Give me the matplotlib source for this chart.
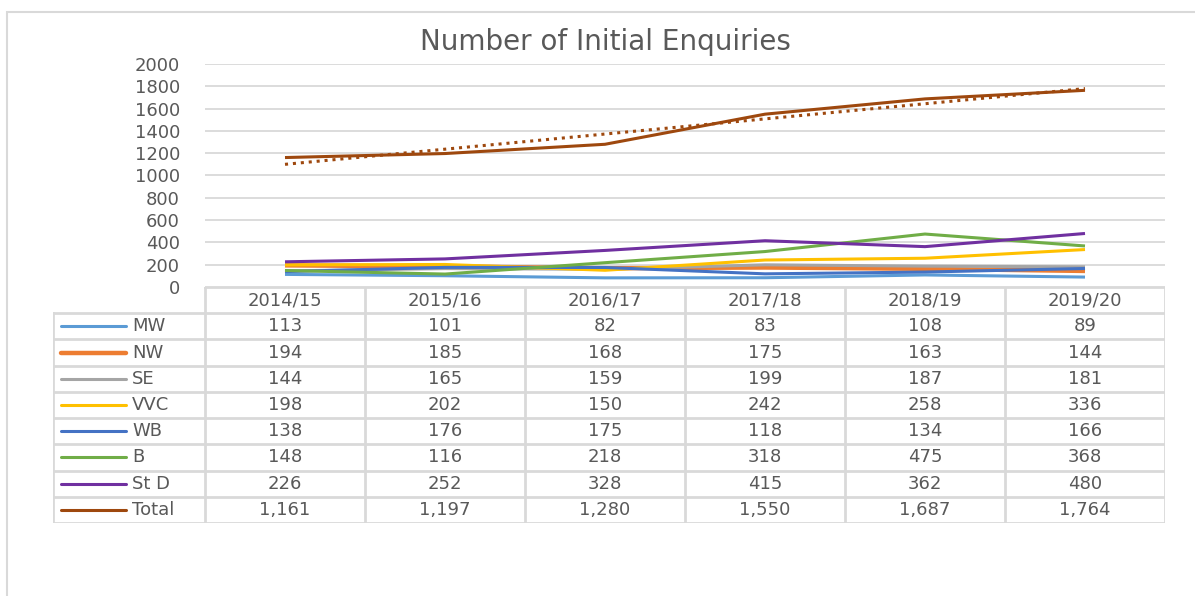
import numpy as np
import matplotlib
matplotlib.use("Agg")
import matplotlib.pyplot as plt
from matplotlib.patches import Rectangle

plt.rcParams["font.family"] = ["DejaVu Sans"]

years = ["2014/15", "2015/16", "2016/17", "2017/18", "2018/19", "2019/20"]
series_names = ["MW", "NW", "SE", "VVC", "WB", "B", "St D", "Total"]
mw = [113, 101, 82, 83, 108, 89]
nw = [194, 185, 168, 175, 163, 144]
se = [144, 165, 159, 199, 187, 181]
vvc = [198, 202, 150, 242, 258, 336]
wb = [138, 176, 175, 118, 134, 166]
b = [148, 116, 218, 318, 475, 368]
st_d = [226, 252, 328, 415, 362, 480]
total = [1161, 1197, 1280, 1550, 1687, 1764]

series = [mw, nw, se, vvc, wb, b, st_d, total]
colors = ["#5B9BD5", "#ED7D31", "#A5A5A5", "#FFC000", "#4472C4",
          "#70AD47", "#7030A0", "#9E480E"]
widths = [2.2, 3.2, 2.2, 2.2, 2.2, 2.2, 2.2, 2.2]

W, H = 1195, 596
TXT = "#595959"
GRID = "#D9D9D9"
FS = 13


def px(x0, y0, x1, y1):
    # pixel box (top-left origin) -> figure fraction rect
    return [x0 / W, 1 - y1 / H, (x1 - x0) / W, (y1 - y0) / H]


fig = plt.figure(figsize=(W / 100, H / 100), dpi=100)
fig.patch.set_facecolor("white")

# outer chart border (only top and left visible)
fig.add_artist(Rectangle((7 / W, -0.1), 1.2, 1 - 12 / H + 0.1,
                         transform=fig.transFigure, fill=False,
                         edgecolor=GRID, lw=1.5))

fig.text(605 / W, 1 - 42 / H, "Number of Initial Enquiries", ha="center",
         va="center", fontsize=20, color=TXT)

ax = fig.add_axes(px(205, 64, 1165, 287))
x = np.arange(len(years))
for vals, c, lw in zip(series, colors, widths):
    ax.plot(x, vals, color=c, lw=lw, solid_capstyle="butt", zorder=3)

# linear trendline on Total
k, c0 = np.polyfit(x, total, 1)
ax.plot(x, k * x + c0, color=colors[-1], lw=2.2,
        linestyle=(0, (1, 1.6)), zorder=3)

ax.set_xlim(-0.5, 5.5)
ax.set_ylim(0, 2000)
ax.set_yticks(range(0, 2001, 200))
ax.set_xticks([])
ax.yaxis.grid(True, color=GRID, lw=1.3)
ax.set_axisbelow(True)
for s in ax.spines.values():
    s.set_visible(False)
ax.tick_params(axis="y", length=0, pad=18, labelsize=FS, labelcolor=TXT)

# data table underneath
leg_w = 152 / 160
tax = fig.add_axes(px(205 - 152, 287, 1165, 523))
tax.set_xlim(-0.5 - leg_w, 5.5)
tax.set_ylim(9, 0)
tax.axis("off")
nrows = len(series_names) + 1
tax.plot([-0.5, 5.5], [0, 0], color=GRID, lw=2)
for r in range(1, nrows + 1):
    tax.plot([-0.5 - leg_w, 5.5], [r, r], color=GRID, lw=2)
for i in range(len(years) + 1):
    tax.plot([-0.5 + i, -0.5 + i], [0, nrows], color=GRID, lw=2)
tax.plot([-0.5 - leg_w] * 2, [1, nrows], color=GRID, lw=2)

for i, yr in enumerate(years):
    tax.text(i, 0.5, yr, ha="center", va="center", fontsize=FS, color=TXT)
for r, (name, vals, c, lw) in enumerate(zip(series_names, series, colors, widths)):
    yy = r + 1.5
    x0 = -0.5 - leg_w
    tax.plot([x0 + 8 / 160, x0 + 73 / 160], [yy, yy], color=c, lw=lw,
             solid_capstyle="round")
    tax.text(x0 + 79 / 160, yy, name, ha="left", va="center", fontsize=FS,
             color=TXT)
    for i, v in enumerate(vals):
        tax.text(i, yy, f"{v:,}", ha="center", va="center", fontsize=FS,
                 color=TXT)

fig.savefig("out.png", dpi=100, facecolor="white")
